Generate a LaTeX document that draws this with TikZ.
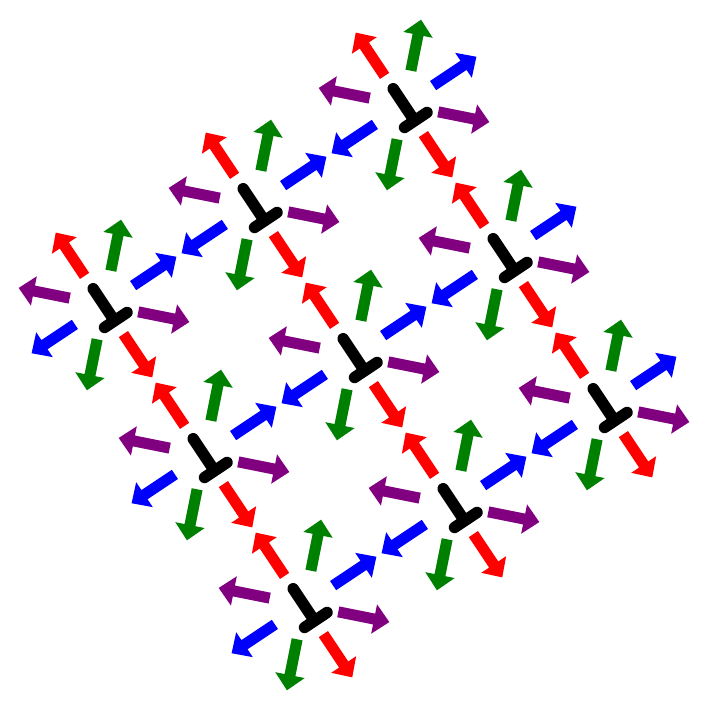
\documentclass[tikz,border=0pt]{standalone}
\definecolor{ared}{RGB}{255,0,0}
\definecolor{agreen}{RGB}{0,128,0}
\definecolor{ablue}{RGB}{0,0,255}
\definecolor{apurple}{RGB}{128,0,128}
\tikzset{
  tbar/.style={draw=black, line width=11.5pt, line cap=round, line join=round},
  arrowfill/.style={fill=#1, draw=none}
}
\begin{document}
\begin{tikzpicture}[x=1pt,y=1pt]
\useasboundingbox (0,0) rectangle (710,710);
\foreach \i in {0,1,2}{
  \foreach \j in {0,1,2}{
    \coordinate (u\i\j) at ({104+150*\i+100*\j},{405+100*\i-150*\j});
    \begin{scope}[shift={(u\i\j)}, rotate=33.69]
      \foreach \ang/\col in {90/ared,270/ared,45/agreen,225/agreen,0/ablue,180/ablue,-45/apurple,135/apurple}{
        \path[arrowfill=\col, rotate=\ang]
          (35,-5.5) -- (71.5,-5.5) -- (71.5,-15) -- (87,0) -- (71.5,15) -- (71.5,5.5) -- (35,5.5) -- cycle;
      }
      \draw[tbar] (0,19.5) -- (0,-19) (-12,-19) -- (15,-19);
    \end{scope}
  }
}
\end{tikzpicture}
\end{document}
